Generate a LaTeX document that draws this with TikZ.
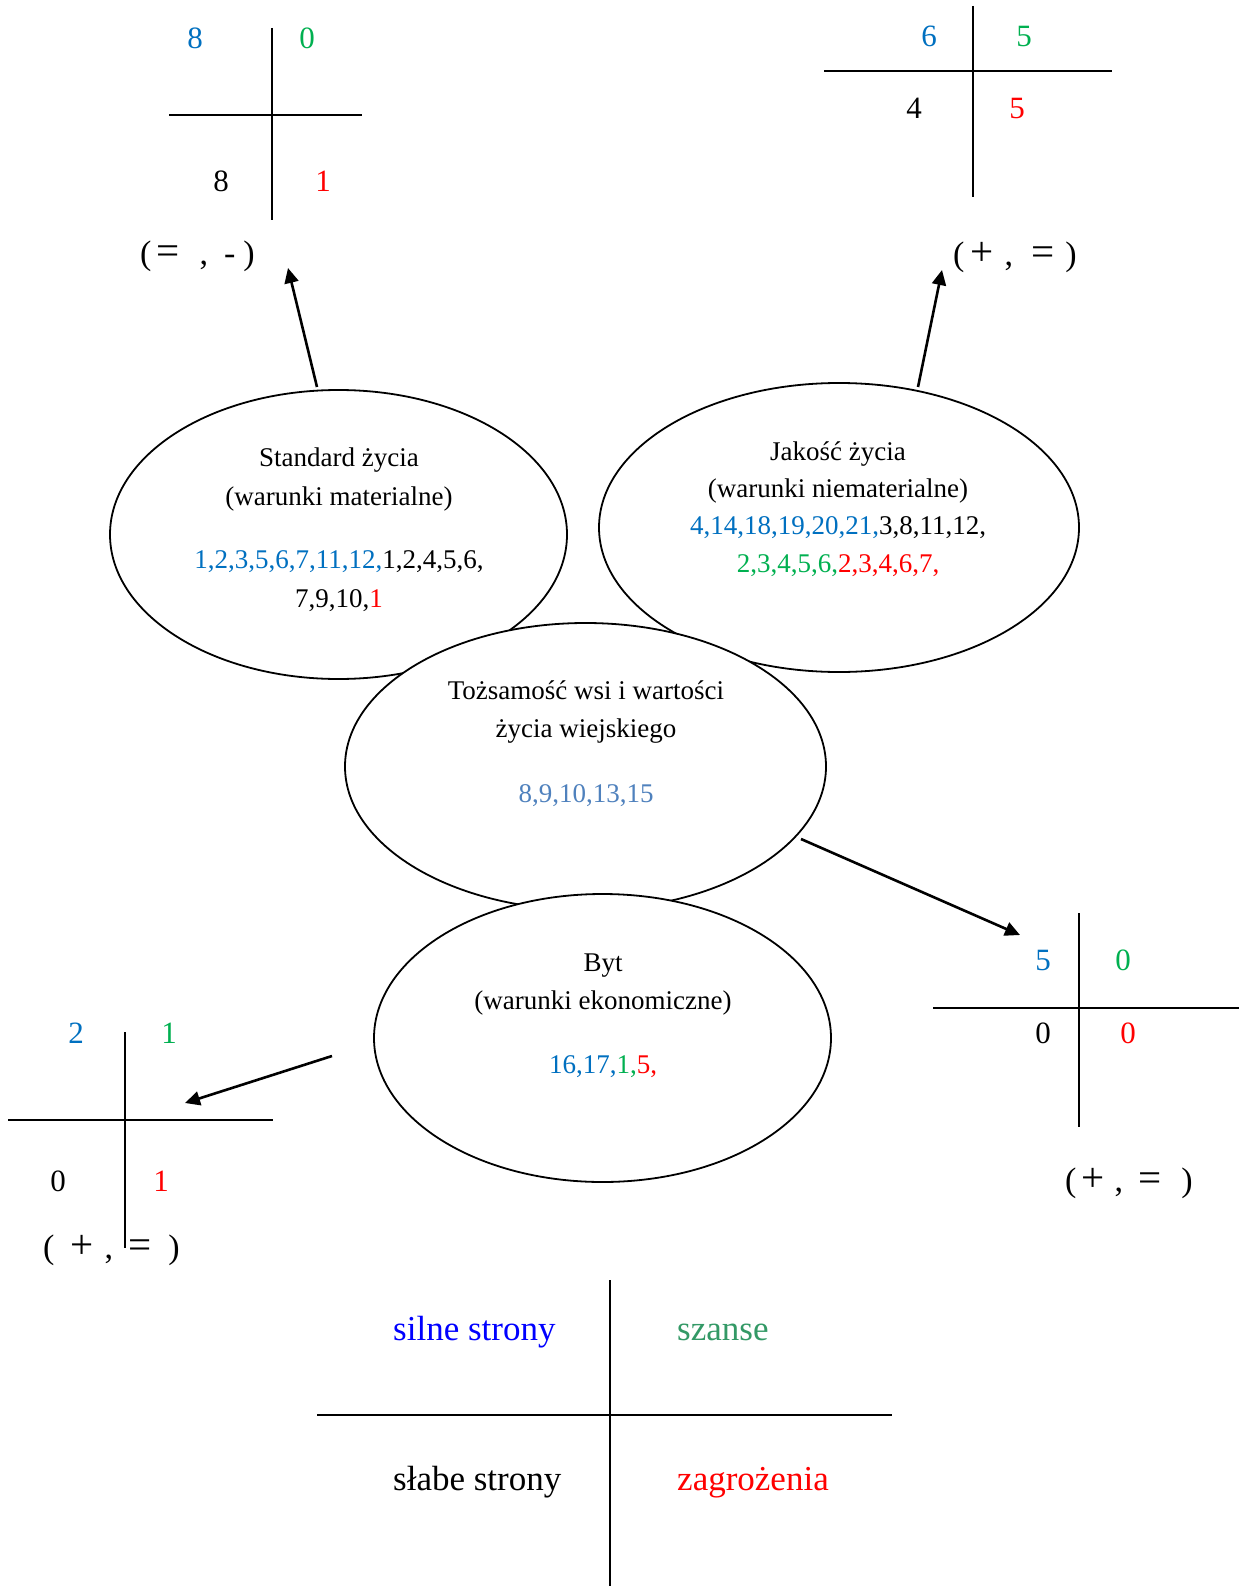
\documentclass[tikz,border=0pt]{standalone}
\usepackage{fontspec}
\setmainfont{Liberation Serif}
\usetikzlibrary{shapes.geometric,arrows.meta}
\definecolor{cb}{HTML}{0070C0}
\definecolor{cg}{HTML}{00B050}
\definecolor{cr}{HTML}{FF0000}
\definecolor{cs}{HTML}{4F81BD}
\definecolor{lb}{HTML}{0000FF}
\definecolor{lg}{HTML}{339966}
\newcommand{\bsym}[1]{{\fontsize{41}{41}\selectfont #1}}
\tikzset{
  el/.style={draw, ellipse, line width=1.8pt, fill=white, inner sep=0pt},
  lbl/.style={font=\fontsize{27}{32}\selectfont, anchor=base, inner sep=0pt},
  dig/.style={font=\fontsize{31}{36}\selectfont, anchor=base, inner sep=0pt},
  pair/.style={font=\fontsize{34}{40}\selectfont, anchor=base west, inner sep=0pt},
  leg/.style={font=\fontsize{35}{42}\selectfont, anchor=base west, inner sep=0pt},
  ax/.style={line width=2pt},
  arr/.style={line width=2.6pt, -{Triangle[length=15pt,width=14pt]}}
}
\begin{document}
\begin{tikzpicture}[x=1pt,y=-1pt]
\useasboundingbox (0,0) rectangle (1239,1586);
\fill[white] (0,0) rectangle (1239,1586);

% ellipses
\node[el, minimum width=457pt, minimum height=289pt] (std) at (338.5,534.5) {};
\node[el, minimum width=480pt, minimum height=289pt] (jak) at (839,527.5) {};
\node[el, minimum width=481pt, minimum height=287pt] (toz) at (585.5,766.5) {};
\node[el, minimum width=457pt, minimum height=288pt] (byt) at (602.5,1038) {};

% ellipse texts
\node[lbl] (s1) at (339,466) {Standard życia};
\node[lbl] (s2) at (339,505) {(warunki materialne)};
\node[lbl] (s3) at (339,568) {\textcolor{cb}{1,2,3,5,6,7,11,12,}1,2,4,5,6,};
\node[lbl] (s4) at (339,607) {7,9,10,\textcolor{cr}{1}};

\node[lbl] (j1) at (838,460) {Jakość życia};
\node[lbl] (j2) at (838,497) {(warunki niematerialne)};
\node[lbl] (j3) at (838,534) {\textcolor{cb}{4,14,18,19,20,21,}3,8,11,12,};
\node[lbl] (j4) at (838,572) {\textcolor{cg}{2,3,4,5,6,}\textcolor{cr}{2,3,4,6,7,}};

\node[lbl] (t1) at (586,699) {Tożsamość wsi i wartości};
\node[lbl] (t2) at (586,737) {życia wiejskiego};
\node[lbl] (t3) at (586,802) {\textcolor{cs}{8,9,10,13,15}};

\node[lbl] (b1) at (603,971) {Byt};
\node[lbl] (b2) at (603,1009) {(warunki ekonomiczne)};
\node[lbl] (b3) at (603,1073) {\textcolor{cb}{16,17,}\textcolor{cg}{1,}\textcolor{cr}{5,}};

% quadrant top-left
\coordinate (q1t) at (272,28); \coordinate (q1b) at (272,220);
\coordinate (q1l) at (169,115); \coordinate (q1r) at (362,115);
\draw[ax] (q1t) -- (q1b); \draw[ax] (q1l) -- (q1r);
\node[dig, cb] (q1a) at (195,49) {8};
\node[dig, cg] (q1c) at (307,49) {0};
\node[dig] (q1d) at (221,192) {8};
\node[dig, cr] (q1e) at (323,192) {1};
\node[pair] (q1p) at (140,265) {(\hspace{5pt}\bsym{=}\hspace{20pt},\hspace{16pt}-\hspace{8pt})};

% quadrant top-right
\coordinate (q2t) at (973,6); \coordinate (q2b) at (973,197);
\coordinate (q2l) at (824,71); \coordinate (q2r) at (1112,71);
\draw[ax] (q2t) -- (q2b); \draw[ax] (q2l) -- (q2r);
\node[dig, cb] (q2a) at (929,47) {6};
\node[dig, cg] (q2c) at (1024,47) {5};
\node[dig] (q2d) at (914,119) {4};
\node[dig, cr] (q2e) at (1017,119) {5};
\node[pair] (q2p) at (953,266) {(\hspace{6pt}\bsym{+}\hspace{11pt},\hspace{18pt}\bsym{=}\hspace{11pt})};

% quadrant right
\coordinate (q3t) at (1079,913); \coordinate (q3b) at (1079,1127);
\coordinate (q3l) at (933,1008); \coordinate (q3r) at (1239,1008);
\draw[ax] (q3t) -- (q3b); \draw[ax] (q3l) -- (q3r);
\node[dig, cb] (q3a) at (1043,970) {5};
\node[dig, cg] (q3c) at (1123,970) {0};
\node[dig] (q3d) at (1043,1043) {0};
\node[dig, cr] (q3e) at (1128,1043) {0};
\node[pair] (q3p) at (1065,1191) {(\hspace{5pt}\bsym{+}\hspace{10pt},\hspace{15pt}\bsym{=}\hspace{20pt})};

% quadrant left
\coordinate (q4t) at (125,1032); \coordinate (q4b) at (125,1248);
\coordinate (q4l) at (8,1120); \coordinate (q4r) at (273,1120);
\draw[ax] (q4t) -- (q4b); \draw[ax] (q4l) -- (q4r);
\node[dig, cb] (q4a) at (76,1043) {2};
\node[dig, cg] (q4c) at (169,1043) {1};
\node[dig] (q4d) at (58,1191) {0};
\node[dig, cr] (q4e) at (161,1191) {1};
\node[pair] (q4p) at (43,1258) {(\hspace{16pt}\bsym{+}\hspace{11pt},\hspace{15pt}\bsym{=}\hspace{17pt})};

% legend
\coordinate (lgt) at (610,1280); \coordinate (lgb) at (610,1586);
\coordinate (lgl) at (317,1415); \coordinate (lgr) at (892,1415);
\draw[ax] (lgt) -- (lgb); \draw[ax] (lgl) -- (lgr);
\node[leg, lb] (l1) at (393,1340) {silne strony};
\node[leg, lg] (l2) at (677,1340) {szanse};
\node[leg] (l3) at (393,1490) {słabe strony};
\node[leg, cr] (l4) at (677,1490) {zagrożenia};

% arrows
\coordinate (a1s) at (317,387); \coordinate (a1e) at (288,268);
\coordinate (a2s) at (918,387); \coordinate (a2e) at (942,270);
\coordinate (a3s) at (801,839); \coordinate (a3e) at (1020,935);
\coordinate (a4s) at (332,1056); \coordinate (a4e) at (185,1103);
\draw[arr] (a1s) -- (a1e);
\draw[arr] (a2s) -- (a2e);
\draw[arr] (a3s) -- (a3e);
\draw[arr] (a4s) -- (a4e);
\end{tikzpicture}
\end{document}
